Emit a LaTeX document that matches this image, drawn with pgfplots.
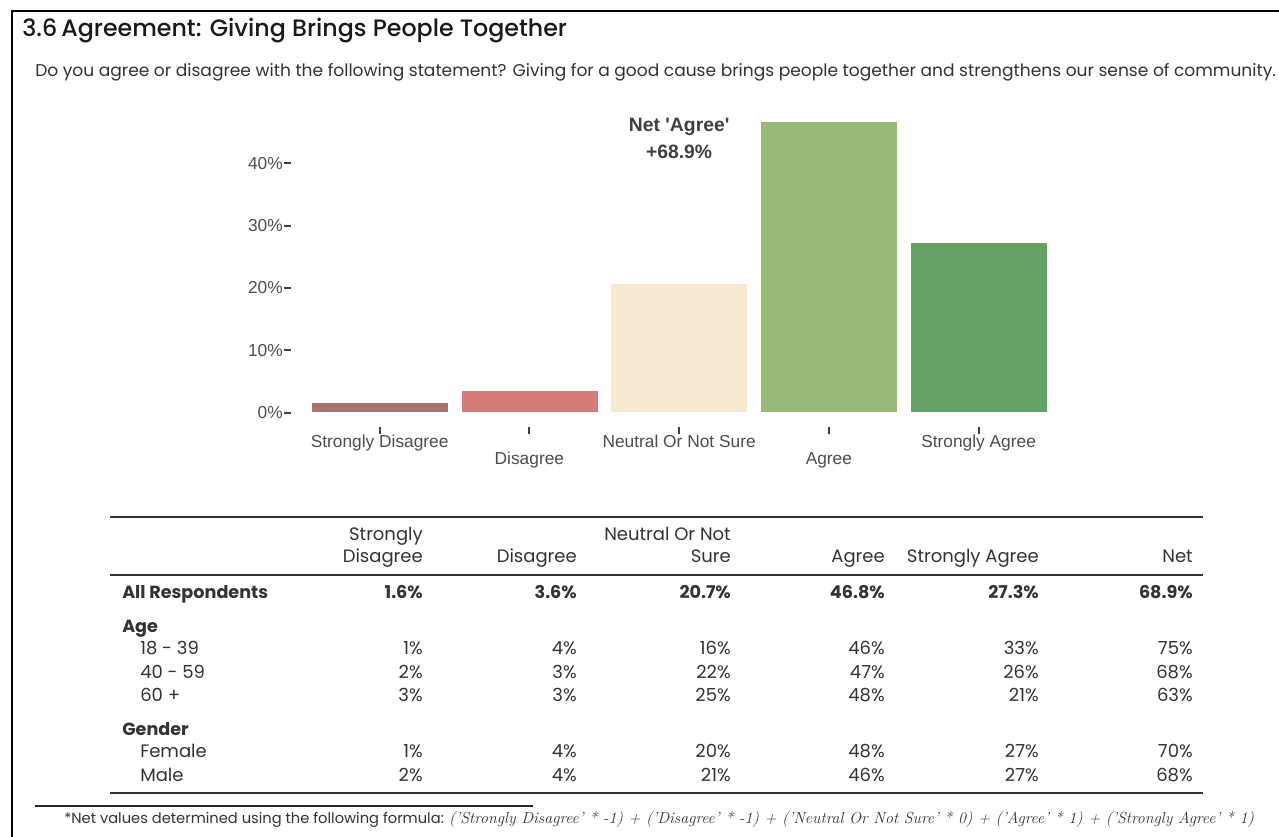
\documentclass[border=0pt]{standalone}
\usepackage{fontspec}
\usepackage{pgfplots}
\pgfplotsset{compat=1.18}
\newfontfamily\pop{Poppins}
\newfontfamily\popm{Poppins Medium}
\newfontfamily\arial{Liberation Sans}
\definecolor{cSD}{HTML}{A87370}
\definecolor{cD}{HTML}{D67B7A}
\definecolor{cN}{HTML}{F8E9D2}
\definecolor{cA}{HTML}{99B979}
\definecolor{cSA}{HTML}{65A164}
\definecolor{txt}{HTML}{333333}
\definecolor{axtxt}{HTML}{4D4D4D}
\begin{document}
\begin{tikzpicture}[x=0.75pt,y=-0.75pt]
\path[use as bounding box] (0,0) rectangle (1279,837);
\draw[line width=1.5pt, black] (12,837) -- (12,11) -- (1279,11);
\node[anchor=base west, inner sep=0, font=\popm\fontsize{17.8}{20}\selectfont, text=black!90] at (22,37) {3.6\,Agreement: Giving Brings People Together};
\node[anchor=base west, inner sep=0, font=\pop\fontsize{12.8}{14}\selectfont, text=txt] at (35,77) {Do you agree or disagree with the following statement? Giving for a good cause brings people together and strengthens our sense of community.};

\begin{axis}[
  at={(218.25pt,-320.25pt)}, anchor=south west,
  scale only axis, width=583.1pt, height=235.17pt,
  xmin=-0.592, xmax=4.6, ymin=-2.29, ymax=48,
  axis x line*=bottom, axis y line*=left,
  axis line style={draw=none},
  tick align=outside, major tick length=5pt,
  tick style={line width=1.5pt, color=black!75},
  ytick={0,10,20,30,40},
  yticklabels={0\%,10\%,20\%,30\%,40\%},
  yticklabel style={font=\arial\fontsize{13}{15}\selectfont, text=axtxt, inner sep=1pt},
  xtick={0,1,2,3,4},
  xticklabels={Strongly Disagree,{\vphantom{Sg}\\Disagree},Neutral Or Not Sure,{\vphantom{Sg}\\Agree},Strongly Agree},
  xticklabel style={font=\arial\fontsize{13}{13.2}\selectfont, text=axtxt, align=center, inner sep=1pt},
  ybar, bar width=102.75pt, bar shift=0pt,
  clip=false,
]
\addplot[fill=cSD, draw=white, line width=0.4pt] coordinates {(0,1.6)};
\addplot[fill=cD, draw=white, line width=0.4pt] coordinates {(1,3.6)};
\addplot[fill=cN, draw=white, line width=0.4pt] coordinates {(2,20.7)};
\addplot[fill=cA, draw=white, line width=0.4pt] coordinates {(3,46.8)};
\addplot[fill=cSA, draw=white, line width=0.4pt] coordinates {(4,27.3)};
\node[anchor=base, inner sep=0, font=\arial\bfseries\fontsize{14.5}{16}\selectfont, text=black!75] at (axis cs:2,45.07) {Net 'Agree'};
\node[anchor=base, inner sep=0, font=\arial\bfseries\fontsize{14.5}{16}\selectfont, text=black!75] at (axis cs:2,40.8) {+68.9\%};
\end{axis}

% table
\tikzset{tab/.style={inner sep=0, font=\pop\fontsize{13.5}{15}\selectfont, text=txt},
         tabb/.style={tab, font=\pop\bfseries\fontsize{13.2}{15}\selectfont}}
\draw[line width=1.5pt, txt] (110,517) -- (1203,517);
\draw[line width=1.5pt, txt] (110,575) -- (1203,575);
\draw[line width=1.5pt, txt] (110,793) -- (1203,793);
\node[tab, anchor=base east] at (423,541) {Strongly};
\node[tab, anchor=base east] at (423,563) {Disagree};
\node[tab, anchor=base east] at (577,563) {Disagree};
\node[tab, anchor=base east] at (731,541) {Neutral Or Not};
\node[tab, anchor=base east] at (731,563) {Sure};
\node[tab, anchor=base east] at (885,563) {Agree};
\node[tab, anchor=base east] at (1039,563) {Strongly Agree};
\node[tab, anchor=base east] at (1193,563) {Net};

\node[tabb, anchor=base west] at (122,599) {All Respondents};
\node[tabb, anchor=base west] at (122,633) {Age};
\node[tab, anchor=base west] at (140,655) {18 - 39};
\node[tab, anchor=base west] at (140,679) {40 - 59};
\node[tab, anchor=base west] at (140,702) {60 +};
\node[tabb, anchor=base west] at (122,735) {Gender};
\node[tab, anchor=base west] at (140,758) {Female};
\node[tab, anchor=base west] at (140,782) {Male};

\foreach \v [count=\i from 0] in {1.6\%,3.6\%,20.7\%,46.8\%,27.3\%,68.9\%}
  \node[tabb, anchor=base east] at (423+154*\i,599) {\v};
\foreach \v [count=\i from 0] in {1\%,4\%,16\%,46\%,33\%,75\%}
  \node[tab, anchor=base east] at (423+154*\i,655) {\v};
\foreach \v [count=\i from 0] in {2\%,3\%,22\%,47\%,26\%,68\%}
  \node[tab, anchor=base east] at (423+154*\i,679) {\v};
\foreach \v [count=\i from 0] in {3\%,3\%,25\%,48\%,21\%,63\%}
  \node[tab, anchor=base east] at (423+154*\i,702) {\v};
\foreach \v [count=\i from 0] in {1\%,4\%,20\%,48\%,27\%,70\%}
  \node[tab, anchor=base east] at (423+154*\i,758) {\v};
\foreach \v [count=\i from 0] in {2\%,4\%,21\%,46\%,27\%,68\%}
  \node[tab, anchor=base east] at (423+154*\i,782) {\v};

% footnote
\draw[line width=1.2pt, black!85] (35,806) -- (533,806);
\node[anchor=base west, inner sep=0, text=txt] at (64,823) {\pop\fontsize{11}{13}\selectfont *Net values determined using the following formula: \normalfont\itshape\fontsize{12}{14}\selectfont ('Strongly Disagree' * -1) + ('Disagree' * -1) + ('Neutral Or Not Sure' * 0) + ('Agree' * 1) + ('Strongly Agree' * 1)};
\end{tikzpicture}
\end{document}
